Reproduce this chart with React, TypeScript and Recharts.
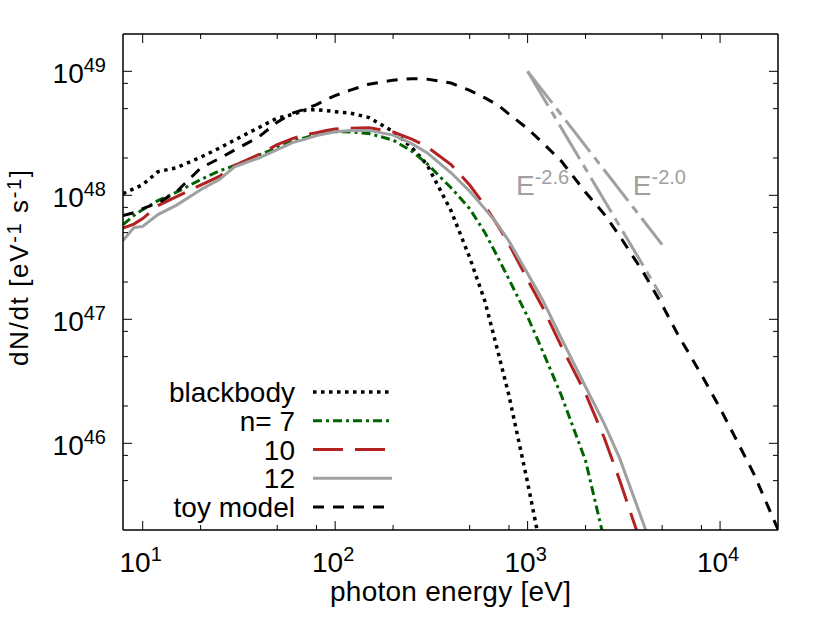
import React from "react";
import { LineChart, Line, XAxis, YAxis, Legend, ReferenceDot } from "recharts";

// photon energy grid [eV]
const energy = [
  7.9, 9, 10, 12, 15, 20, 25, 30, 40, 50, 60, 70, 80, 90, 100, 120, 150, 200, 250, 300, 400, 500, 600, 700,
  800, 1000, 1200, 1500, 2000, 2500, 3000, 4000, 5000, 6000, 8000, 10000, 12000, 15000, 20000,
];

// dN/dt [eV^-1 s^-1]
const blackbody = [
  1.03e48, 1.13e48, 1.22e48, 1.55e48, 1.67e48, 2.03e48, 2.4e48, 2.79e48, 3.51e48, 4.2e48, 4.48e48, 4.87e48,
  4.91e48, 4.82e48, 4.73e48, 4.6e48, 4.24e48, 3.27e48, 2.43e48, 1.77e48, 7.52e47, 3.15e47, 1.4e47, 5.54e46,
  2.43e46, 4.82e45, 1.17e45,
];
const n7 = [
  5.8e47, 6.86e47, 7.67e47, 9.06e47, 1.06e48, 1.34e48, 1.57e48, 1.74e48, 2.11e48, 2.42e48, 2.74e48, 2.92e48,
  3.09e48, 3.2e48, 3.26e48, 3.24e48, 3.15e48, 2.79e48, 2.27e48, 1.8e48, 1.15e48, 7.81e47, 5.0e47, 3.17e47,
  2.1e47, 1.05e47, 5.49e46, 2.42e46, 7.25e45, 1.67e45,
];
const n10 = [
  5.44e47, 5.86e47, 6.49e47, 8.26e47, 9.76e47, 1.21e48, 1.42e48, 1.74e48, 2.13e48, 2.56e48, 2.87e48, 3.09e48,
  3.2e48, 3.33e48, 3.43e48, 3.48e48, 3.5e48, 3.24e48, 2.84e48, 2.47e48, 1.77e48, 1.21e48, 8.26e47, 5.7e47,
  4.04e47, 2.09e47, 1.24e47, 6.03e46, 2.52e46, 1.11e46, 5.1e45, 1.36e45,
];
const n12 = [
  4.31e47, 5.49e47, 5.62e47, 6.99e47, 8.34e47, 1.11e48, 1.34e48, 1.7e48, 2.0e48, 2.34e48, 2.66e48, 2.84e48,
  3.03e48, 3.15e48, 3.26e48, 3.33e48, 3.34e48, 3.06e48, 2.61e48, 2.21e48, 1.52e48, 1.08e48, 7.78e47, 5.8e47,
  4.27e47, 2.34e47, 1.42e47, 6.99e46, 2.86e46, 1.44e46, 7.67e45, 2.25e45, 8.7e44,
];
const toyModel = [
  6.86e47, 7.25e47, 7.81e47, 8.66e47, 1.07e48, 1.66e48, 1.98e48, 2.32e48, 2.95e48, 3.89e48, 4.6e48, 4.96e48,
  5.39e48, 5.91e48, 6.37e48, 7.05e48, 7.88e48, 8.49e48, 8.73e48, 8.65e48, 8.04e48, 7.03e48, 6.1e48, 5.35e48,
  4.52e48, 3.45e48, 2.64e48, 1.88e48, 1.06e48, 7.05e47, 4.73e47, 2.38e47, 1.31e47, 7.67e46, 3.58e46, 1.92e46,
  1.11e46, 5.65e45, 2.02e45,
];

// power-law guides
const guideEnergy = [1000, 5000];
const guideSteep = [1e49, 1.5e47];
const guideFlat = [1e49, 4e47];

const annotations = [
  { base: "E", exp: "-2.6", x: 870, y: 1.01e48 },
  { base: "E", exp: "-2.0", x: 3520, y: 1.01e48 },
];

const xMajorTicks = [10, 100, 1000, 10000];
const xMinorTicks = [20, 50, 80, 200, 500, 800, 2000, 5000, 8000];
const yMajorTicks = [1e46, 1e47, 1e48, 1e49];
const yMinorTicks = [5e45, 8e45, 2e46, 5e46, 8e46, 2e47, 5e47, 8e47, 2e48, 5e48, 8e48];
const xDomain = [7.9, 20000];
const yDomain = [2e45, 2e49];

const FONT = '"Liberation Sans", Arial, Helvetica, sans-serif';
const GUIDE = "#a0a0a0";

const series = [
  { name: "blackbody", values: blackbody, color: "#000000", dash: "3.5 4.5", width: 3.5 },
  { name: "n= 7", values: n7, color: "#006400", dash: "9 4 3 4", width: 3 },
  { name: "10", values: n10, color: "#b22222", dash: "30 12", width: 3 },
  { name: "12", values: n12, color: "#a0a0a0", dash: undefined, width: 3 },
  { name: "toy model", values: toyModel, color: "#000000", dash: "11 9", width: 3 },
];

const toPoints = (xs: number[], ys: (number | null)[]) =>
  xs.map((x, i) => ({ x, y: ys[i] })).filter((p) => p.y != null);

const isMajor = (v: number) => Math.abs(Math.log10(v) - Math.round(Math.log10(v))) < 1e-6;
const expOf = (v: number) => Math.round(Math.log10(v));

const Power = ({ x, y, anchor, base, exp, color = "#000" }: any) => (
  <text x={x} y={y} textAnchor={anchor} fontFamily={FONT} fontSize={28} fill={color}>
    {base}
    <tspan dy={-11} fontSize={20}>
      {exp}
    </tspan>
  </text>
);

const BottomTick = ({ x, y, payload }: any) => {
  const major = isMajor(payload.value);
  return (
    <g>
      <line x1={x} y1={y} x2={x} y2={y - (major ? 9 : 5)} stroke="#000" strokeWidth={1} />
      {major && <Power x={x - 2} y={y + 42} anchor="middle" base="10" exp={expOf(payload.value)} />}
    </g>
  );
};

const TopTick = ({ x, y, payload }: any) => (
  <line x1={x} y1={y} x2={x} y2={y + (isMajor(payload.value) ? 9 : 5)} stroke="#000" strokeWidth={1} />
);

const LeftTick = ({ x, y, payload }: any) => {
  const major = isMajor(payload.value);
  return (
    <g>
      <line x1={x} y1={y} x2={x + (major ? 9 : 5)} y2={y} stroke="#000" strokeWidth={1} />
      {major && <Power x={x - 17} y={y + 12} anchor="end" base="10" exp={expOf(payload.value)} />}
    </g>
  );
};

const RightTick = ({ x, y, payload }: any) => (
  <line x1={x} y1={y} x2={x - (isMajor(payload.value) ? 9 : 5)} y2={y} stroke="#000" strokeWidth={1} />
);

const XTitle = ({ viewBox }: any) => (
  <text
    x={viewBox.x + viewBox.width / 2}
    y={viewBox.y + 71}
    textAnchor="middle"
    fontFamily={FONT}
    fontSize={28}
    textLength={241}
  >
    photon energy [eV]
  </text>
);

const YTitle = ({ viewBox }: any) => {
  const cx = viewBox.x - 35;
  const cy = viewBox.y + viewBox.height / 2 - 14;
  return (
    <text
      x={cx}
      y={cy}
      transform={`rotate(-90 ${cx} ${cy})`}
      textAnchor="middle"
      fontFamily={FONT}
      fontSize={26}
      textLength={196}
    >
      dN/dt [eV
      <tspan dy={-7} fontSize={20}>
        -1
      </tspan>
      <tspan dy={7}> s</tspan>
      <tspan dy={-7} fontSize={20}>
        -1
      </tspan>
      <tspan dy={7}>]</tspan>
    </text>
  );
};

const LegendBox = () => (
  <svg width={260} height={150}>
    {series.map((s, i) => (
      <g key={s.name}>
        <text x={145} y={27 + i * 28.75} textAnchor="end" fontFamily={FONT} fontSize={28}>
          {s.name}
        </text>
        <line
          x1={163}
          x2={242}
          y1={17 + i * 28.75}
          y2={17 + i * 28.75}
          stroke={s.color}
          strokeWidth={s.width}
          strokeDasharray={s.dash}
        />
      </g>
    ))}
  </svg>
);

const axisLine = { stroke: "#000", strokeWidth: 1.5 };

export default function App() {
  return (
    <div style={{ position: "absolute", left: 0, top: 0, width: 830, height: 623, background: "#fff" }}>
      <LineChart width={830} height={623} margin={{ top: 24, right: 42, bottom: 63, left: 63 }}>
        <XAxis
          xAxisId="b"
          type="number"
          dataKey="x"
          scale="log"
          domain={xDomain}
          allowDataOverflow
          ticks={[...xMajorTicks, ...xMinorTicks]}
          interval={0}
          tickSize={0}
          tickMargin={0}
          tickLine={false}
          tick={BottomTick}
          axisLine={axisLine}
          height={30}
          label={XTitle}
        />
        <XAxis
          xAxisId="t"
          orientation="top"
          type="number"
          dataKey="x"
          scale="log"
          domain={xDomain}
          allowDataOverflow
          ticks={[...xMajorTicks, ...xMinorTicks]}
          interval={0}
          tickSize={0}
          tickMargin={0}
          tickLine={false}
          tick={TopTick}
          axisLine={axisLine}
          height={10}
        />
        <YAxis
          yAxisId="l"
          type="number"
          scale="log"
          domain={yDomain}
          allowDataOverflow
          ticks={[...yMajorTicks, ...yMinorTicks]}
          interval={0}
          tickSize={0}
          tickMargin={0}
          tickLine={false}
          tick={LeftTick}
          axisLine={axisLine}
          width={60}
          label={YTitle}
        />
        <YAxis
          yAxisId="r"
          orientation="right"
          type="number"
          scale="log"
          domain={yDomain}
          allowDataOverflow
          ticks={[...yMajorTicks, ...yMinorTicks]}
          interval={0}
          tickSize={0}
          tickMargin={0}
          tickLine={false}
          tick={RightTick}
          axisLine={axisLine}
          width={10}
        />
        {series.slice(0, 4).map((s) => (
          <Line
            key={s.name}
            xAxisId="b"
            yAxisId="l"
            data={toPoints(energy, s.values)}
            dataKey="y"
            name={s.name}
            stroke={s.color}
            strokeWidth={s.width}
            strokeDasharray={s.dash}
            dot={false}
            activeDot={false}
            isAnimationActive={false}
          />
        ))}
        <Line
          xAxisId="b"
          yAxisId="l"
          data={toPoints(guideEnergy, guideSteep)}
          dataKey="y"
          stroke={GUIDE}
          strokeWidth={3}
          strokeDasharray="40 7 8 7"
          dot={false}
          activeDot={false}
          legendType="none"
          isAnimationActive={false}
        />
        <Line
          xAxisId="b"
          yAxisId="l"
          data={toPoints(guideEnergy, guideFlat)}
          dataKey="y"
          stroke={GUIDE}
          strokeWidth={3}
          strokeDasharray="40 7 8 7"
          dot={false}
          activeDot={false}
          legendType="none"
          isAnimationActive={false}
        />
        {series.slice(4).map((s) => (
          <Line
            key={s.name}
            xAxisId="b"
            yAxisId="l"
            data={toPoints(energy, s.values)}
            dataKey="y"
            name={s.name}
            stroke={s.color}
            strokeWidth={s.width}
            strokeDasharray={s.dash}
            dot={false}
            activeDot={false}
            isAnimationActive={false}
          />
        ))}
        {annotations.map((a) => (
          <ReferenceDot
            key={a.exp}
            xAxisId="b"
            yAxisId="l"
            x={a.x}
            y={a.y}
            r={0}
            ifOverflow="visible"
            shape={(p: any) => <Power x={p.cx} y={p.cy} anchor="start" base={a.base} exp={a.exp} color={GUIDE} />}
          />
        ))}
        <Legend
          layout="horizontal"
          verticalAlign="middle"
          align="center"
          content={LegendBox}
          wrapperStyle={{ left: 150, top: 375, width: 260, height: 150 }}
        />
      </LineChart>
    </div>
  );
}
